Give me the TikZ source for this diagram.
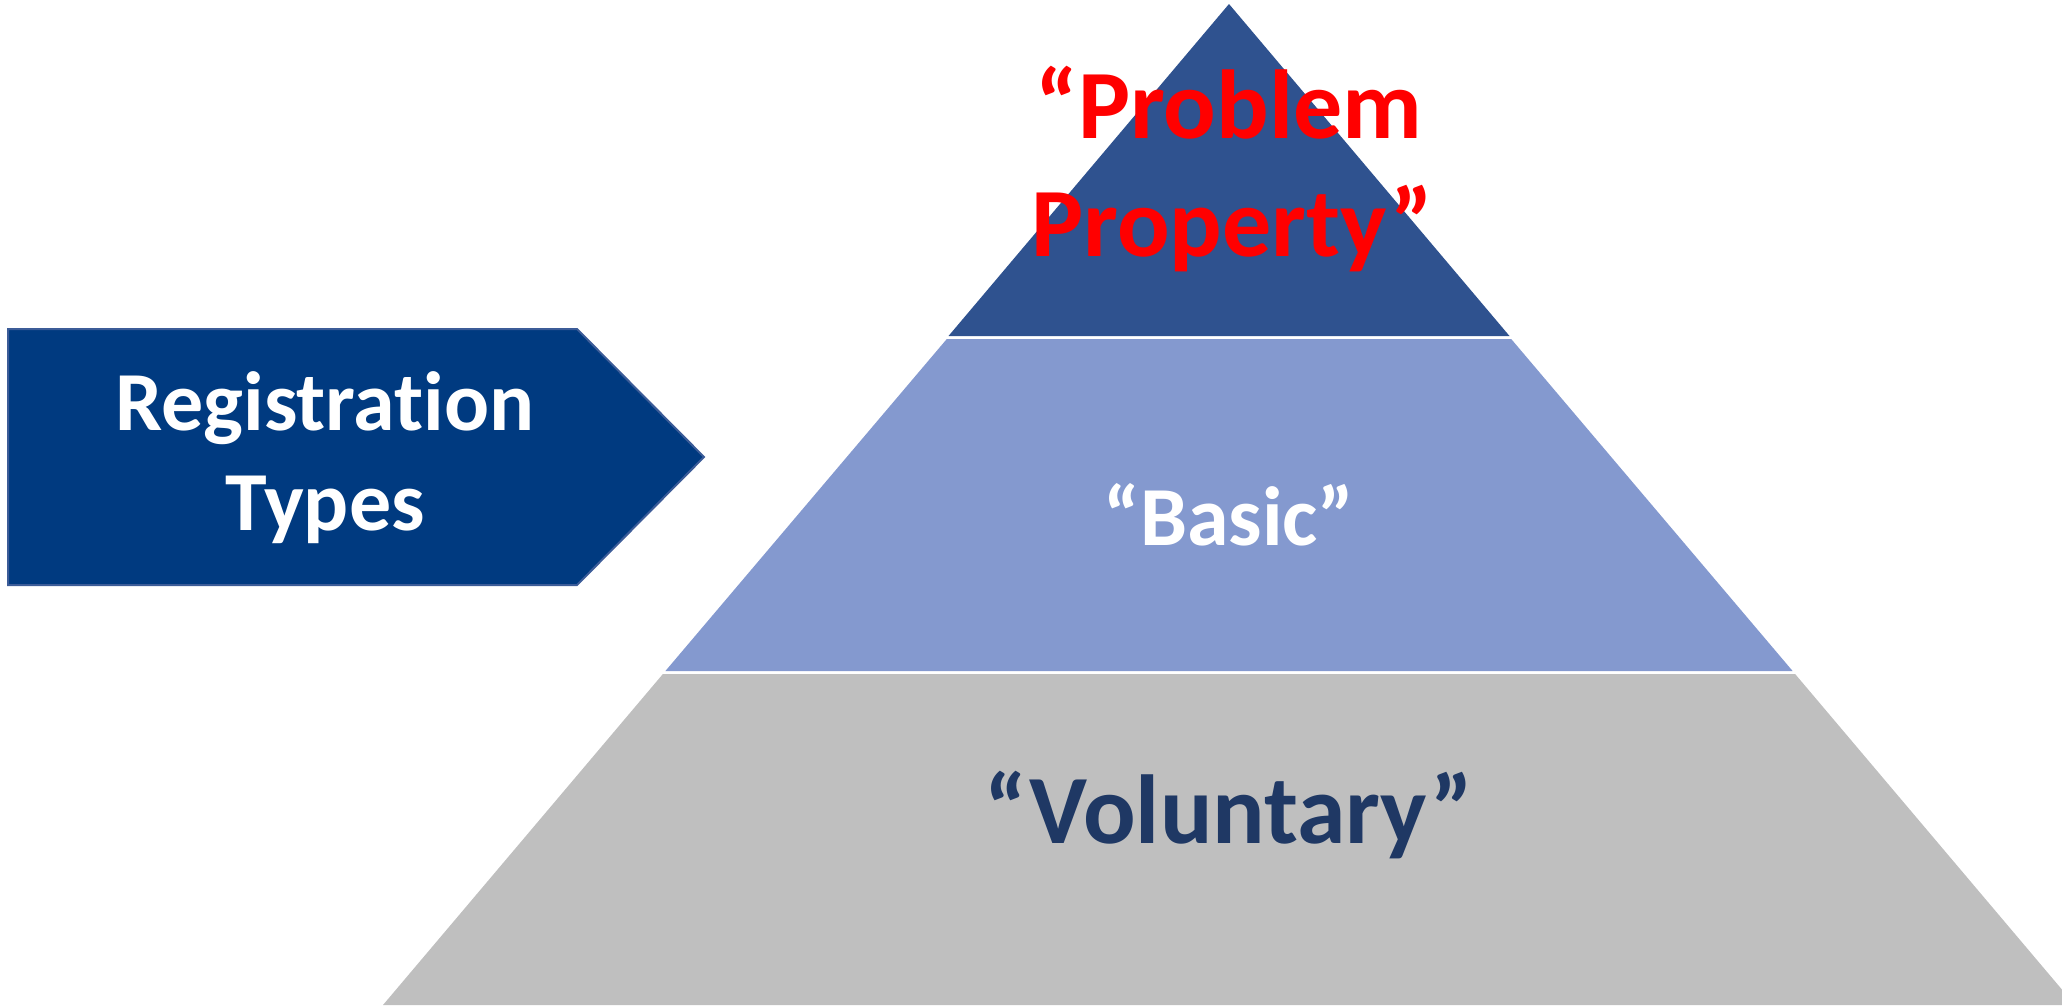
\documentclass[tikz,border=0pt]{standalone}
\usepackage{fontspec}
\setmainfont{Carlito}[Ligatures=NoCommon]
\definecolor{topband}{RGB}{47,82,143}
\definecolor{midband}{RGB}{132,153,207}
\definecolor{lowband}{RGB}{191,191,191}
\definecolor{arrowfill}{RGB}{0,58,128}
\definecolor{arrowedge}{RGB}{60,92,152}
\definecolor{navytext}{RGB}{31,56,100}
\begin{document}
\begin{tikzpicture}[x=1pt,y=-1pt,
  label/.style={font=\bfseries, align=center, inner sep=0pt, anchor=base}]
\useasboundingbox (0,0) rectangle (2062,1007);
\begin{scope}
\clip (0,0) rectangle (2062,1007);
% pyramid bands
\fill[topband] (1229,4) -- (1509.5,336) -- (948.5,336) -- cycle;
\fill[midband] (946.8,339) -- (1511.2,339) -- (1792.6,671) -- (665.4,671) -- cycle;
\fill[lowband] (662.9,674) -- (1795.1,674) -- (2075,1005) -- (383,1005) -- cycle;
\end{scope}
% arrow pentagon
\fill[arrowfill, draw=arrowedge, line width=2pt] (8,329) -- (577,329) -- (704,457) -- (577,585) -- (8,585) -- cycle;
% texts
\node[label, text=white, font=\bfseries\fontsize{84}{100}\selectfont] (reg) at (325,430) {Registration};
\node[label, text=white, font=\bfseries\fontsize{84}{100}\selectfont] (types) at (325,530) {Types};
\node[label, text=red, font=\bfseries\fontsize{98}{118}\selectfont] (prob) at (1229,138) {“Problem};
\node[label, text=red, font=\bfseries\fontsize{98}{118}\selectfont] (prop) at (1232,256) {Property”};
\node[label, text=white, font=\bfseries\fontsize{84}{100}\selectfont] (basic) at (1229,545) {“Basic”};
\node[label, text=navytext, font=\bfseries\fontsize{98}{118}\selectfont] (vol) at (1229,843) {“Voluntary”};
\end{tikzpicture}
\end{document}
